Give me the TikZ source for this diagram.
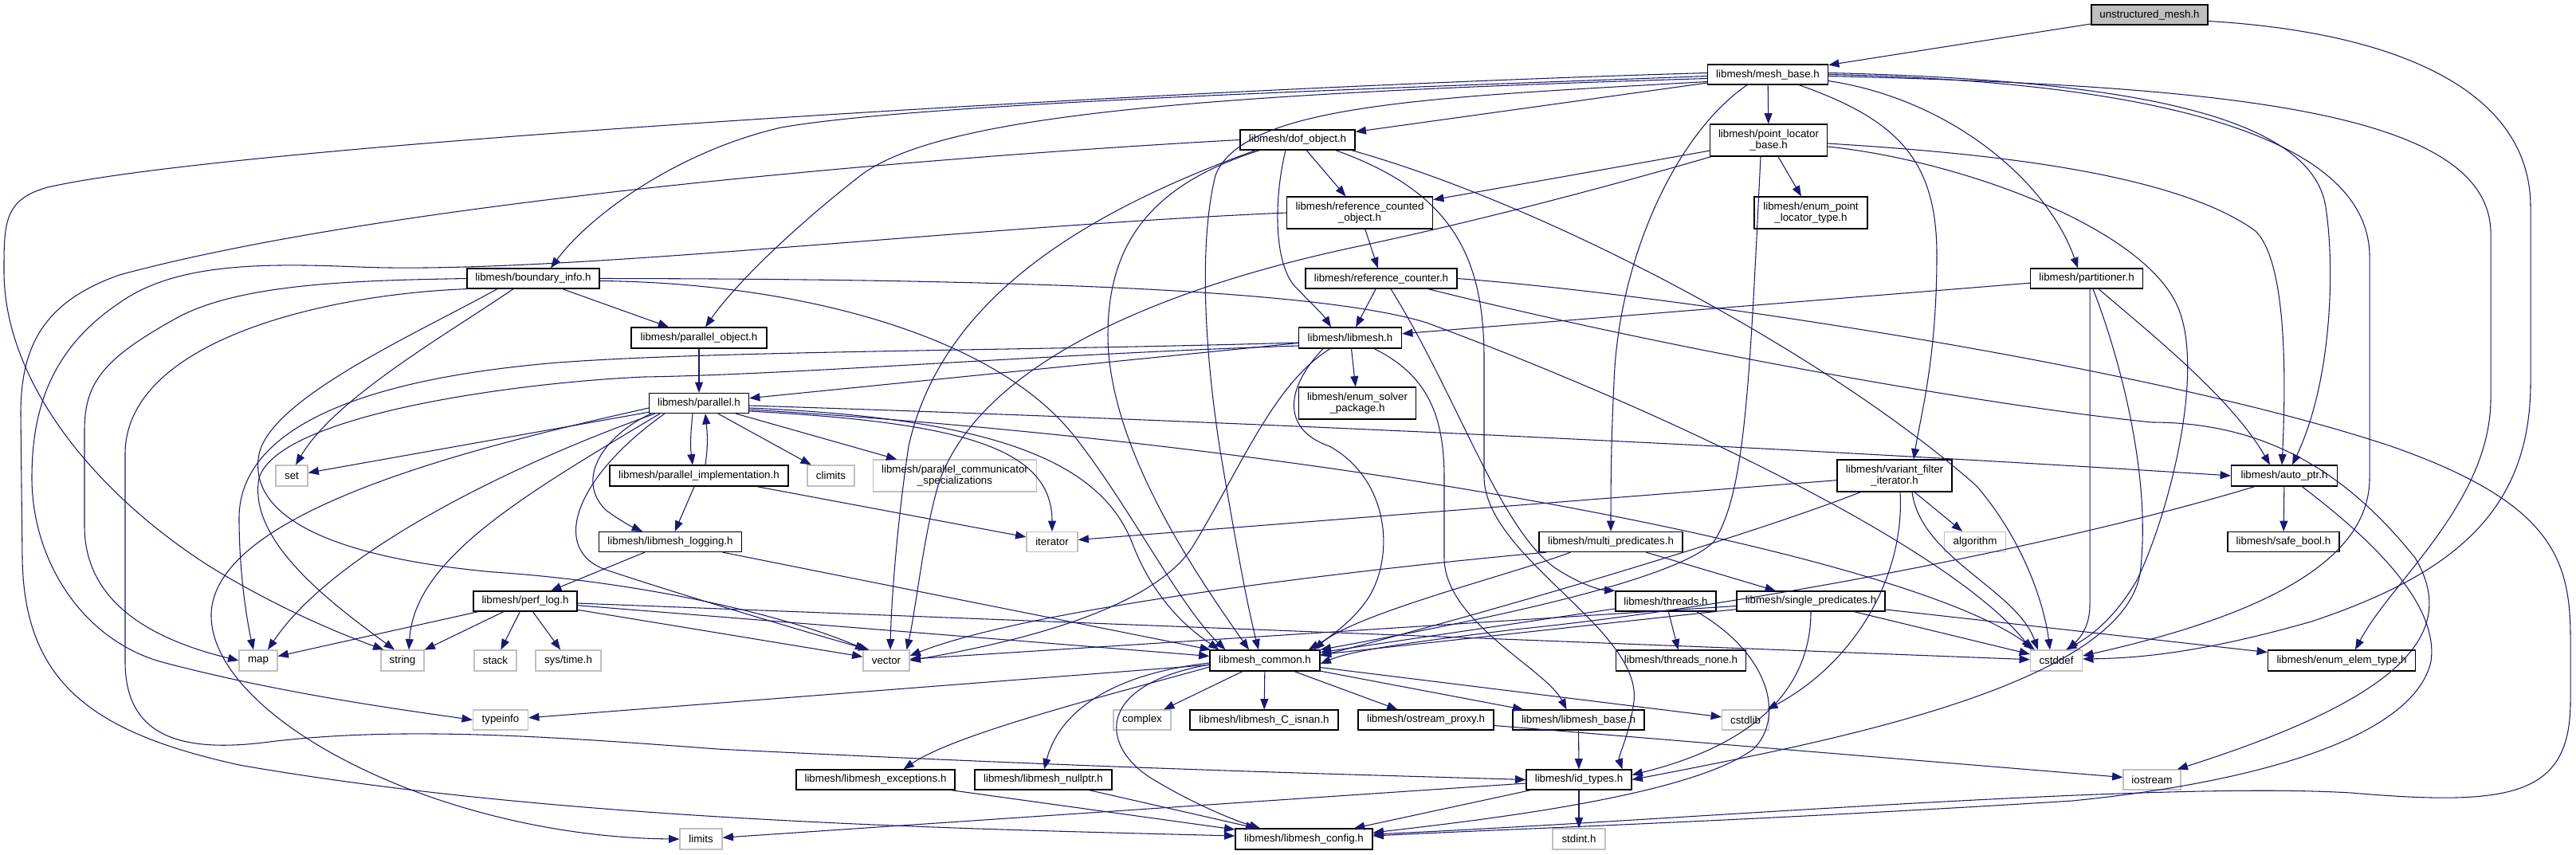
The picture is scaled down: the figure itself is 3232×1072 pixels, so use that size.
\documentclass[tikz,border=0pt]{standalone}
\usepackage{fontspec}
\setmainfont{Liberation Sans}
\usetikzlibrary{arrows.meta,calc}
\definecolor{edgec}{HTML}{191970}
\definecolor{extgray}{HTML}{BFBFBF}
\newcommand\gnode[7]{\node[#1,minimum width=#5*0.75pt,minimum height=#6*0.75pt] (#2) at (#3,#4) {#7};}
\tikzset{
 nb/.style={draw=black, fill=white, line width=0.9pt, inner sep=0pt, align=center, font=\fontsize{10}{11}\selectfont},
 ext/.style={nb, draw=extgray},
 e/.style={draw=edgec, line width=0.8pt, -{Triangle[length=10pt,width=7.5pt]}},
}
\begin{document}
\begin{tikzpicture}[x=0.75pt,y=-0.75pt]
\useasboundingbox (0,0) rectangle (3232,1072);
% ---------- nodes ----------
\gnode{nb,fill=extgray}{A}{2697}{18.5}{146}{25}{unstructured\_mesh.h}
\gnode{nb}{B}{2218}{93.5}{151}{25}{libmesh/mesh\_base.h}
\gnode{nb}{C}{1628}{175.5}{144}{25}{libmesh/dof\_object.h}
\gnode{nb}{D}{2219}{176}{147}{40}{libmesh/point\_locator\\\_base.h}
\gnode{nb}{E}{1706}{267}{183}{40}{libmesh/reference\_counted\\\_object.h}
\gnode{nb}{F}{2272}{267}{142}{40}{libmesh/enum\_point\\\_locator\_type.h}
\gnode{nb}{G}{1733}{349.5}{190}{25}{libmesh/reference\_counter.h}
\gnode{nb}{H}{669}{349.5}{166}{25}{libmesh/boundary\_info.h}
\gnode{nb}{I}{877}{424}{170}{26}{libmesh/parallel\_object.h}
\gnode{nb}{J}{1694}{424}{129}{26}{libmesh/libmesh.h}
\gnode{nb}{K}{1703}{506}{147}{40}{libmesh/enum\_solver\\\_package.h}
\gnode{nb}{L}{2618}{349.5}{141}{25}{libmesh/partitioner.h}
\gnode{nb}{M}{877}{506}{125}{25}{libmesh/parallel.h}
\gnode{nb}{N}{877}{597}{224}{26}{libmesh/parallel\_implementation.h}
\gnode{nb}{O}{841}{680}{179}{25}{libmesh/libmesh\_logging.h}
\gnode{nb}{P}{659}{754.5}{130}{25}{libmesh/perf\_log.h}
\gnode{nb}{Q}{2021}{680}{180}{25}{libmesh/multi\_predicates.h}
\gnode{nb}{R}{2272}{754.5}{186}{25}{libmesh/single\_predicates.h}
\gnode{nb}{S}{2090}{754.5}{126}{25}{libmesh/threads.h}
\gnode{nb}{T}{2109}{829}{163}{26}{libmesh/threads\_none.h}
\gnode{nb}{U}{2377}{597}{144}{40}{libmesh/variant\_filter\\\_iterator.h}
\gnode{nb}{V}{2866}{597}{133}{26}{libmesh/auto\_ptr.h}
\gnode{nb}{W}{2865}{680}{140}{25}{libmesh/safe\_bool.h}
\gnode{nb}{X}{1587}{829}{138}{26}{libmesh\_common.h}
\gnode{nb}{Y}{1586}{903.5}{186}{25}{libmesh/libmesh\_C\_isnan.h}
\gnode{nb}{Z}{1789}{903.5}{170}{25}{libmesh/ostream\_proxy.h}
\gnode{nb}{AA}{1980.5}{903.5}{165}{25}{libmesh/libmesh\_base.h}
\gnode{nb}{AB}{1098.5}{978.5}{199}{25}{libmesh/libmesh\_exceptions.h}
\gnode{nb}{AC}{1309}{978.5}{172}{25}{libmesh/libmesh\_nullptr.h}
\gnode{nb}{AD}{1981}{978.5}{132}{25}{libmesh/id\_types.h}
\gnode{nb}{AE}{1636}{1053}{172}{26}{libmesh/libmesh\_config.h}
\gnode{nb}{AF}{2938}{829}{185}{26}{libmesh/enum\_elem\_type.h}
\gnode{ext}{set}{366}{597}{40}{26}{set}
\gnode{ext}{climits}{1042.5}{597}{59}{26}{climits}
\gnode{ext}{pcs}{1198}{597}{205}{40}{libmesh/parallel\_communicator\\\_specializations}
\gnode{ext}{iterator}{1320}{680}{64}{25}{iterator}
\gnode{ext}{map}{324}{829}{48}{26}{map}
\gnode{ext}{string}{505}{829}{54}{26}{string}
\gnode{ext}{stack}{621.5}{829}{53}{26}{stack}
\gnode{ext}{systime}{713}{829}{82}{26}{sys/time.h}
\gnode{ext}{typeinfo}{628}{903.5}{69}{25}{typeinfo}
\gnode{ext}{vector}{1112}{829}{58}{26}{vector}
\gnode{ext}{complex}{1433}{903.5}{72}{25}{complex}
\gnode{ext}{cstdlib}{2190}{903.5}{59}{25}{cstdlib}
\gnode{ext}{cstddef}{2580}{829}{65}{26}{cstddef}
\gnode{ext}{iostream}{2700}{978.5}{72}{25}{iostream}
\gnode{ext}{algorithm}{2478}{680}{77}{25}{algorithm}
\gnode{ext}{limits}{879.5}{1053}{53}{26}{limits}
\gnode{ext}{stdint}{1981}{1053}{66}{26}{stdint.h}
% ---------- straight edges ----------
\draw[e] (A) -- (B);
\draw[e] (B) -- (C);
\draw[e] (B) -- (D);
\draw[e] (C) -- (E);
\draw[e] (D) -- (E);
\draw[e] (D) -- (F);
\draw[e] (E) -- (G);
\draw[e] (G) -- (J);
\draw[e] (L) -- (J);
\draw[e] (J) -- (K);
\draw[e] (I) -- (M);
\draw[e] (J) -- (M);
\draw[e] (H) -- (I);
\draw[e] (M) -- (set);
\draw[e] (M) -- (climits);
\draw[e] (M) -- (pcs);
\draw[e] (N) -- (iterator);
\draw[e] (U) -- (iterator);
\draw[e] (N) -- (O);
\draw[e] (O) -- (P);
\draw[e] (P) -- (map);
\draw[e] (P) -- (string);
\draw[e] (P) -- (stack);
\draw[e] (P) -- (systime);
\draw[e] (P) -- (vector);
\draw[e] (P) -- (X);
\draw[e] (P) -- (cstddef);
\draw[e] (O) -- (X);
\draw[e] (Q) -- (R);
\draw[e] (R) -- (AF);
\draw[e] (R) -- (cstddef);
\draw[e] (R) -- (X);
\draw[e] (R) -- (vector);
\draw[e] (S) -- (X);
\draw[e] (S) -- (T);
\draw[e] (U) -- (algorithm);
\draw[e] (V) -- (W);
\draw[e] (X) -- (complex);
\draw[e] (X) -- (Y);
\draw[e] (X) -- (Z);
\draw[e] (X) -- (AA);
\draw[e] (X) -- (cstdlib);
\draw[e] (X) -- (typeinfo);
\draw[e] (AA) -- (AD);
\draw[e] (AD) -- (stdint);
\draw[e] (AB) -- (AE);
\draw[e] (AC) -- (AE);
\draw[e] (AD) -- (AE);
\draw[e] (AD) -- (limits);
\draw[e] (Z) -- (iostream);
% ---------- curved edges ----------
\draw[e] ($(A.east)+(0,8)$) .. controls (3000,40) and (3175,110) .. (3175,260) -- (3175,480) .. controls (3175,640) and (3080,720) .. (2900,780) .. controls (2760,820) and (2680,826) .. ($(cstddef.east)+(0,-2)$);
\draw[e] ($(B.west)+(0,2)$) .. controls (1700,112) and (1150,130) .. (980,160) .. controls (850,190) and (740,270) .. ($(H.north)+(22,0)$);
\draw[e] ($(B.west)+(0,-2)$) .. controls (1500,110) and (300,180) .. (60,235) .. controls (5,250) and (5,280) .. (5,340) .. controls (5,480) and (120,620) .. (265,712) .. controls (360,770) and (440,800) .. ($(string.north west)+(4,0)$);
\draw[e] ($(B.west)+(0,5)$) .. controls (1500,118) and (1180,145) .. (1080,220) .. controls (990,290) and (920,360) .. ($(I.north)+(8,0)$);
\draw[e] ($(B.east)+(0,8)$) .. controls (2450,125) and (2570,230) .. ($(L.north)+(-11,0)$);
\draw[e] ($(B.south)+(39,0)$) .. controls (2380,150) and (2430,200) .. (2430,320) .. controls (2430,450) and (2410,520) .. ($(U.north)+(24,0)$);
\draw[e] ($(B.south)+(-26,0)$) .. controls (2100,170) and (2030,330) .. (2025,480) .. controls (2021,560) and (2021,620) .. (Q.north);
\draw[e] ($(B.east)+(0,-2)$) .. controls (2650,100) and (2900,140) .. (2918,260) .. controls (2930,340) and (2925,480) .. ($(V.north)+(10,0)$);
\draw[e] (B.east) .. controls (2700,102) and (2970,170) .. (2973,320) -- (2973,600) .. controls (2973,700) and (2850,770) .. ($(cstddef.east)+(0,-6)$);
\draw[e] ($(B.east)+(0,2)$) .. controls (2800,108) and (3120,140) .. (3125,290) -- (3125,500) .. controls (3125,630) and (3000,730) .. ($(AF.north)+(17,0)$);
\draw[e] ($(B.west)+(0,9)$) .. controls (1800,122) and (1560,130) .. (1525,220) .. controls (1505,300) and (1510,430) .. (1530,560) .. controls (1550,680) and (1565,760) .. ($(X.north)+(-8,0)$);
\draw[e] ($(C.south)+(-15,0)$) .. controls (1598,250) and (1598,330) .. (1625,360) .. controls (1645,380) and (1660,395) .. ($(J.north)+(-24,0)$);
\draw[e] ($(C.south west)+(25,0)$) .. controls (1450,230) and (1390,300) .. (1390,420) .. controls (1390,560) and (1500,720) .. ($(X.north)+(-20,0)$);
\draw[e] ($(C.south west)+(20,0)$) .. controls (1350,270) and (1180,380) .. (1140,560) .. controls (1125,660) and (1118,760) .. ($(vector.north)+(5,0)$);
\draw[e] ($(C.south east)+(-5,0)$) .. controls (1950,260) and (2300,450) .. (2480,610) .. controls (2540,680) and (2565,760) .. ($(cstddef.north)+(-8,0)$);
\draw[e] ($(C.south east)+(-25,0)$) .. controls (1820,240) and (1862,320) .. (1862,450) -- (1862,600) .. controls (1865,700) and (2060,790) .. (2050,880) .. controls (2045,920) and (2030,950) .. ($(AD.north east)+(-12,0)$);
\draw[e] (C.west) .. controls (1200,195) and (500,250) .. (150,345) .. controls (50,380) and (26,440) .. (26,520) -- (28,700) .. controls (30,860) and (120,920) .. (300,960) .. controls (700,1030) and (1200,1040) .. ($(AE.west)+(0,-4)$);
\draw[e] (E.west) .. controls (1200,285) and (700,345) .. (450,335) .. controls (330,330) and (220,330) .. (150,380) .. controls (60,440) and (40,520) .. (40,600) .. controls (40,700) and (100,800) .. (200,830) .. controls (350,870) and (500,890) .. (typeinfo.west);
\draw[e] (H.west) .. controls (450,352) and (300,355) .. (220,400) .. controls (130,450) and (106,480) .. (106,540) -- (106,660) .. controls (106,750) and (180,800) .. (map.west);
\draw[e] (H.south west) .. controls (400,370) and (157,430) .. (157,570) -- (157,830) .. controls (157,920) and (220,945) .. (330,932) .. controls (500,910) and (700,925) .. (900,940) .. controls (1400,965) and (1700,972) .. (AD.west);
\draw[e] ($(H.south)+(-25,0)$) .. controls (560,420) and (420,500) .. ($(set.north)+(5,0)$);
\draw[e] ($(H.south)+(-45,0)$) .. controls (520,420) and (340,500) .. (325,570) .. controls (310,650) and (420,700) .. (620,718) .. controls (800,730) and (980,770) .. ($(vector.north west)+(4,0)$);
\draw[e] ($(H.east)+(0,3)$) .. controls (1000,355) and (1250,420) .. (1350,550) .. controls (1420,640) and (1480,760) .. ($(X.north west)+(20,0)$);
\draw[e] (H.east) .. controls (1250,350) and (1650,362) .. (1790,405) .. controls (2100,520) and (2450,690) .. ($(cstddef.north west)+(2,0)$);
\draw[e] ($(M.south)+(-8,0)$) .. controls (866,550) and (866,560) .. ($(N.north)+(-8,0)$);
\draw[e] ($(N.north)+(8,0)$) .. controls (888,560) and (888,550) .. ($(M.south)+(8,0)$);
\draw[e] ($(M.south west)+(3,0)$) .. controls (760,545) and (720,600) .. (760,640) .. controls (780,655) and (795,662) .. ($(O.north)+(-35,0)$);
\draw[e] ($(M.south west)+(8,0)$) .. controls (650,580) and (420,690) .. ($(map.north)+(12,0)$);
\draw[e] ($(M.south west)+(14,0)$) .. controls (660,620) and (520,700) .. ($(string.north)+(8,0)$);
\draw[e] ($(M.west)+(0,6)$) .. controls (600,560) and (270,640) .. (265,770) .. controls (262,900) and (550,1050) .. (limits.west);
\draw[e] ($(M.south west)+(20,0)$) .. controls (720,600) and (690,690) .. (760,715) .. controls (850,745) and (1000,790) .. ($(vector.north west)+(8,0)$);
\draw[e] ($(M.east)+(0,10)$) .. controls (1200,530) and (1320,560) .. (iterator.north);
\draw[e] ($(M.east)+(0,3)$) .. controls (1600,530) and (2300,565) .. (V.west);
\draw[e] ($(M.east)+(0,6)$) .. controls (1250,525) and (1380,580) .. (1420,680) .. controls (1450,760) and (1500,795) .. ($(X.north west)+(12,0)$);
\draw[e] ($(M.east)+(0,8)$) .. controls (1700,560) and (2400,700) .. ($(cstddef.north west)+(6,0)$);
\draw[e] ($(J.south)+(-25,0)$) .. controls (1600,480) and (1560,580) .. (1500,680) .. controls (1450,770) and (1250,810) .. (vector.east);
\draw[e] ($(J.west)+(0,10)$) .. controls (1300,445) and (1000,470) .. (808,473) .. controls (650,480) and (350,520) .. (325,600) .. controls (310,680) and (420,760) .. ($(string.north)+(-10,0)$);
\draw[e] ($(J.west)+(0,6)$) .. controls (1300,440) and (900,440) .. (700,455) .. controls (400,480) and (300,560) .. (300,650) .. controls (300,720) and (310,780) .. ($(map.north)+(-6,0)$);
\draw[e] ($(J.south)+(-34,0)$) .. controls (1610,490) and (1610,540) .. (1668,560) .. controls (1740,600) and (1750,690) .. (1720,745) .. controls (1700,780) and (1660,805) .. ($(X.north east)+(-15,0)$);
\draw[e] ($(J.south)+(30,0)$) .. controls (1790,470) and (1812,520) .. (1812,600) -- (1812,700) .. controls (1812,780) and (1940,840) .. ($(AA.north)+(-15,0)$);
\draw[e] ($(D.south west)+(2,0)$) .. controls (1980,245) and (1820,285) .. (1700,310) .. controls (1560,340) and (1250,420) .. (1180,600) .. controls (1160,660) and (1150,760) .. ($(vector.north east)+(-4,0)$);
\draw[e] ($(D.south)+(-10,0)$) .. controls (2195,480) and (2190,620) .. (2150,680) .. controls (2100,730) and (1850,780) .. (X.north east);
\draw[e] ($(D.east)+(0,4)$) .. controls (2450,190) and (2720,210) .. (2830,290) .. controls (2870,330) and (2868,480) .. ($(V.north)+(-3,0)$);
\draw[e] ($(D.east)+(0,8)$) .. controls (2450,200) and (2680,280) .. (2730,380) .. controls (2770,460) and (2720,650) .. (2680,730) .. controls (2650,780) and (2620,800) .. ($(cstddef.north)+(12,0)$);
\draw[e] ($(L.south)+(15,0)$) .. controls (2700,420) and (2800,500) .. ($(V.north)+(-18,0)$);
\draw[e] ($(L.south)+(4,0)$) .. controls (2622,500) and (2622,700) .. (2622,760) .. controls (2622,790) and (2605,805) .. ($(cstddef.north)+(14,0)$);
\draw[e] ($(L.south)+(8,0)$) .. controls (2660,450) and (2700,600) .. (2685,720) .. controls (2660,860) and (2300,930) .. (AD.east);
\draw[e] ($(U.south west)+(30,0)$) .. controls (2200,670) and (1900,760) .. ($(X.east)+(0,-6)$);
\draw[e] ($(U.south)+(7,0)$) .. controls (2390,720) and (2330,830) .. ($(cstdlib.north east)+(-3,0)$);
\draw[e] ($(U.south)+(22,0)$) .. controls (2410,700) and (2530,740) .. ($(cstddef.north west)+(10,0)$);
\draw[e] ($(V.south west)+(30,0)$) .. controls (2600,680) and (2200,760) .. (1900,790) .. controls (1780,805) and (1700,815) .. ($(X.east)+(0,4)$);
\draw[e] ($(V.south east)+(-45,0)$) .. controls (2980,680) and (3060,760) .. (3050,830) .. controls (3030,920) and (2850,980) .. (2600,1005) .. controls (2200,1030) and (1900,1040) .. ($(AE.east)+(0,-4)$);
\draw[e] ($(G.south)+(12,0)$) .. controls (1830,500) and (1880,660) .. (1950,712) .. controls (1980,732) and (2005,740) .. (S.north west);
\draw[e] (G.east) .. controls (2100,370) and (2700,460) .. (3000,560) .. controls (3200,630) and (3225,700) .. (3225,800) -- (3225,880) .. controls (3225,1000) and (3150,1012) .. (2950,995) .. controls (2700,980) and (2100,1030) .. ($(AE.east)+(0,-6)$);
\draw[e] ($(G.south east)+(-37,0)$) .. controls (2100,440) and (2500,510) .. (2700,530) .. controls (2850,530) and (2950,600) .. (3030,700) .. controls (3090,800) and (3000,880) .. ($(iostream.north east)+(-5,0)$);
\draw[e] ($(Q.south west)+(10,0)$) .. controls (1750,710) and (1300,760) .. ($(vector.east)+(0,-6)$);
\draw[e] ($(Q.south west)+(40,0)$) .. controls (1900,720) and (1700,770) .. ($(X.north east)+(-8,0)$);
\draw[e] (R.south) .. controls (2272,850) and (2220,930) .. ($(AD.east)+(0,-6)$);
\draw[e] ($(S.south east)+(-25,0)$) .. controls (2220,820) and (2240,900) .. (2200,940) .. controls (2120,1000) and (1850,1030) .. ($(AE.east)+(0,-8)$);
\draw[e] ($(X.west)+(0,8)$) .. controls (1400,870) and (1200,920) .. ($(AB.north)+(35,0)$);
\draw[e] ($(X.west)+(0,3)$) .. controls (1400,845) and (1330,890) .. ($(AC.north)+(1,0)$);
\draw[e] ($(X.west)+(0,5)$) .. controls (1370,860) and (1380,940) .. (1450,980) .. controls (1500,1010) and (1550,1030) .. ($(AE.north)+(-55,0)$);
\end{tikzpicture}
\end{document}
